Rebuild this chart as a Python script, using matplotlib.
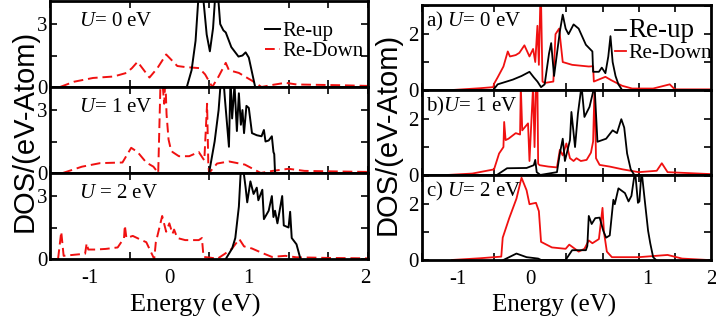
import numpy as np
import matplotlib
matplotlib.use('Agg')
import matplotlib.pyplot as plt

plt.rcParams['font.family'] = 'Liberation Serif'
plt.rcParams['mathtext.fontset'] = 'custom'
plt.rcParams['mathtext.it'] = 'Liberation Serif:italic'
plt.rcParams['mathtext.rm'] = 'Liberation Serif'

# ---------------- data ----------------
# left column, dashed Re-Down / solid Re-up, U = 0, 1, 2 eV
L0_up_e = [0.22, 0.28, 0.33, 0.37, 0.42, 0.47, 0.51, 0.55, 0.58, 0.61, 0.64, 0.68,
           0.71, 0.78, 0.87, 0.92, 0.96, 1.0, 1.04, 1.08]
L0_up_d = [0, 0.8, 2.2, 4.5, 4.5, 2.5, 1.7, 2.8, 4.5, 4.5, 3.0, 2.7,
           2.6, 1.9, 1.45, 1.5, 1.65, 1.4, 0.7, 0]
L0_dn_e = [-1.375, -1.2, -0.96, -0.7, -0.54, -0.47, -0.4, -0.32, -0.25, -0.15, -0.04, 0.05,
           0.1, 0.2, 0.375, 0.45, 0.54, 0.62, 0.71, 0.75, 0.875, 0.95, 1.04, 1.16,
           1.3, 1.46, 1.6, 1.9, 2.2, 2.5]
L0_dn_d = [0, 0.25, 0.43, 0.5, 0.67, 0.9, 1.2, 0.8, 0.45, 0.9, 1.55, 1.2,
           1.0, 0.95, 0.9, 0.6, 0, 0.5, 1.15, 0.8, 0.67, 0.5, 0.3, 0,
           0.1, 0.2, 0.12, 0.1, 0.08, 0.05]

L1_up_e = [0.5, 0.57, 0.62, 0.65, 0.68, 0.7, 0.75, 0.77, 0.79, 0.82, 0.85, 0.875,
           0.9, 0.92, 0.94, 0.97, 1.0, 1.04, 1.1, 1.16, 1.19, 1.21, 1.25, 1.29,
           1.31, 1.32, 1.33]
L1_up_d = [0, 1.5, 3.0, 4.5, 4.5, 3.5, 1.25, 4.5, 2.6, 4.2, 2.0, 3.8,
           2.3, 3.0, 1.9, 3.2, 3.1, 1.9, 1.8, 1.75, 2.05, 1.5, 1.55, 1.75,
           1.0, 0.9, 0]
L1_dn_e = [-1.34, -1.1, -0.87, -0.59, -0.48, -0.4, -0.29, -0.2, -0.14, -0.11, -0.09, -0.065,
           -0.05, -0.035, -0.01, 0.02, 0.04, 0.12, 0.25, 0.37, 0.44, 0.475, 0.49, 0.5,
           0.6, 0.75, 0.95, 1.1, 1.15, 1.3, 1.5, 1.7, 2.0, 2.5]
L1_dn_d = [0, 0.3, 0.47, 0.5, 1.2, 1.0, 0.5, 0.3, 0, 4.5, 4.5, 3.3,
           4.5, 2.8, 1.6, 1.1, 1.0, 0.8, 0.8, 1.0, 0.6, 3.3, 0.5, 0,
           0.45, 0.55, 0.4, 0.1, 0, 0.1, 0.2, 0.1, 0.08, 0.05]

L2_up_e = [0.71, 0.79, 0.83, 0.875, 0.9, 0.93, 0.96, 0.98, 1.02, 1.06, 1.1, 1.12,
           1.17, 1.19, 1.25, 1.29, 1.31, 1.33, 1.36, 1.42, 1.44, 1.5, 1.52, 1.54,
           1.6, 1.65]
L2_up_d = [0, 0.5, 1.0, 2.5, 4.3, 4.3, 3.4, 2.7, 3.7, 3.1, 3.4, 2.8,
           3.3, 1.9, 2.3, 3.0, 2.0, 2.3, 1.7, 3.0, 1.6, 1.5, 2.25, 1.0,
           0.7, 0]
L2_dn_e = [-1.4, -1.36, -1.33, -1.2, -1.06, -1.04, -1.02, -0.93, -0.8, -0.65, -0.57, -0.56,
           -0.54, -0.46, -0.35, -0.29, -0.19, -0.17, -0.15, -0.09, -0.04, 0.0, 0.04, 0.06,
           0.1, 0.2, 0.37, 0.41, 0.43, 0.54, 0.6, 0.7, 0.79, 0.88, 0.94, 1.04,
           1.16, 1.29, 1.46, 1.6, 2.0, 2.5]
L2_dn_d = [0, 1.3, 0.15, 0.2, 0.25, 0.75, 0.45, 0.45, 0.48, 0.55, 1.0, 1.6,
           1.0, 1.1, 0.9, 0.8, 0, 0.8, 1.1, 2.05, 1.3, 1.7, 1.2, 1.4,
           1.0, 0.9, 0.9, 1.0, 0.1, 0.05, 0, 0.25, 0.5, 0.95, 0.6, 0.5,
           0.3, 0.1, 0.15, 0.08, 0.05, 0.03]

# right column, solid lines, panels a), b), c)
Ra_up_e = [-0.51, -0.45, -0.24, -0.12, -0.01, 0.05, 0.1, 0.15, 0.2, 0.26, 0.29, 0.33,
           0.38, 0.41, 0.45, 0.49, 0.53, 0.6, 0.67, 0.77, 0.86, 0.87, 0.95, 0.99,
           1.04, 1.08, 1.11, 1.14, 1.18, 1.22, 1.27]
Ra_up_d = [0, 0.2, 0.37, 0.5, 0.65, 0.45, 0.3, 0.1, 0.2, 1.3, 1.68, 0.5,
           1.5, 2.1, 2.7, 2.2, 2.0, 2.35, 2.2, 1.62, 1.38, 0.65, 0.65, 0.8,
           0.6, 1.2, 1.93, 1.0, 0.5, 0.2, 0]
Ra_dn_e = [-1.06, -0.7, -0.51, -0.5, -0.45, -0.37, -0.31, -0.28, -0.2, -0.15, -0.08, -0.01,
           0.04, 0.07, 0.1, 0.12, 0.14, 0.15, 0.17, 0.2, 0.32, 0.35, 0.4, 0.45,
           0.58, 0.81, 0.87, 0.88, 1.04, 1.12, 1.27, 1.41, 1.7, 1.93, 2.0, 2.5]
Ra_dn_d = [0, 0.06, 0.1, 0.22, 0.45, 0.84, 1.38, 1.2, 1.25, 1.33, 1.6, 1.2,
           1.47, 1.0, 2.3, 0.9, 3.2, 3.2, 0.3, 0.25, 0.3, 2.0, 2.2, 1.0,
           0.9, 0.84, 0.85, 0.3, 0.47, 0.35, 0.15, 0.05, 0.05, 0.2, 0.02, 0.02]

Rb_up_e = [-0.46, -0.32, -0.05, 0.05, 0.07, 0.09, 0.14, 0.37, 0.41, 0.45, 0.48, 0.55,
           0.57, 0.62, 0.66, 0.71, 0.75, 0.82, 0.89, 0.93, 1.05, 1.14, 1.2, 1.26,
           1.3, 1.34, 1.39, 1.44]
Rb_up_d = [0, 0.24, 0.25, 0.35, 0.54, 0.1, 0, 0.1, 0.77, 1.3, 0.5, 1.25,
           2.26, 1.0, 2.2, 3.2, 2.08, 2.44, 3.2, 1.19, 1.3, 1.6, 1.5, 2.0,
           1.7, 0.77, 0.2, 0]
Rb_dn_e = [-1.14, -0.8, -0.5, -0.43, -0.37, -0.36, -0.34, -0.3, -0.2, -0.14, -0.13, -0.11,
           -0.03, -0.01, 0.04, 0.06, 0.08, 0.1, 0.11, 0.13, 0.25, 0.37, 0.41, 0.45,
           0.5, 0.55, 0.6, 0.64, 0.7, 0.78, 0.84, 0.87, 0.89, 0.91, 0.96, 1.1,
           1.28, 1.5, 1.75, 1.82, 1.9, 2.5]
Rb_dn_d = [0, 0.05, 0.2, 0.77, 1.0, 1.9, 1.25, 1.3, 1.5, 1.45, 3.2, 1.6,
           1.85, 0.5, 3.2, 1.0, 3.2, 3.2, 0.4, 0.35, 0.3, 0.27, 0.9, 0.7,
           1.13, 0.6, 0.5, 0.6, 0.5, 0.54, 0.8, 1.2, 3.2, 0.6, 0.36, 0.3,
           0.2, 0.1, 0.15, 0.42, 0.1, 0.03]

Rc_up_e = [-0.37, -0.19, -0.05, 0.11, 0.15, 0.49, 0.58, 0.77, 0.79, 0.81, 0.85, 0.9,
           0.96, 1.01, 1.05, 1.1, 1.15, 1.17, 1.22, 1.31, 1.36, 1.4, 1.45, 1.49,
           1.51, 1.54, 1.59, 1.63, 1.66, 1.7, 1.74]
Rc_up_d = [0, 0.23, 0.1, 0.05, 0, 0, 0.35, 0.35, 0.5, 1.58, 1.29, 1.5,
           1.52, 1.05, 0.8, 0.88, 2.16, 2.0, 2.57, 2.4, 2.1, 2.3, 3.2, 2.05,
           2.1, 3.2, 2.0, 1.05, 0.6, 0.1, 0]
Rc_dn_e = [-1.08, -0.7, -0.4, -0.38, -0.29, -0.19, -0.12, -0.05, -0.01, 0.08, 0.12, 0.15,
           0.3, 0.49, 0.54, 0.67, 0.75, 0.81, 0.86, 0.95, 1.0, 1.02, 1.06, 1.13,
           1.5, 1.9, 2.1, 2.45]
Rc_dn_d = [0, 0.06, 0.12, 0.8, 1.5, 2.2, 2.95, 2.5, 2.0, 2.05, 1.75, 0.65,
           0.45, 0.4, 0.55, 0.3, 0.4, 0.7, 0.6, 0.75, 1.87, 1.0, 0.3, 0.1,
           0.1, 0.18, 0.05, 0]

left_labels = [r'$U$= 0 eV', r'$U$= 1 eV', r'$U$ = 2 eV']
right_labels = [r'a) $U$= 0 eV', r'b)$U$= 1 eV', r'c) $U$= 2 eV']

# tick labels sit where they are in the original figure
left_xtick_pos = [-1, 0, 1, 2.47]
right_xtick_pos = [-1, 0, 1.62, 2.5]
xtick_lab = ['-1', '0', '1', '2']

left_data = [(L0_up_e, L0_up_d, L0_dn_e, L0_dn_d),
             (L1_up_e, L1_up_d, L1_dn_e, L1_dn_d),
             (L2_up_e, L2_up_d, L2_dn_e, L2_dn_d)]
right_data = [(Ra_up_e, Ra_up_d, Ra_dn_e, Ra_dn_d),
              (Rb_up_e, Rb_up_d, Rb_dn_e, Rb_dn_d),
              (Rc_up_e, Rc_up_d, Rc_dn_e, Rc_dn_d)]

RED = '#f01010'


def style_axis(ax, ymax, ymaj, ymin, xpos, last):
	ax.set_xlim(-1.5, 2.5)
	ax.set_ylim(0, ymax)
	for s in ax.spines.values():
		s.set_linewidth(2)
	ax.set_xticks(np.arange(-1.5, 2.51, 0.5), minor=True)
	if last:
		ax.set_xticks(xpos, xtick_lab)
	else:
		ax.set_xticks(xpos, [''] * len(xpos))
	ax.set_yticks(ymaj)
	ax.set_yticks(ymin, minor=True)
	ax.tick_params(which='major', axis='x', length=0, labelsize=15, pad=7)
	ax.tick_params(which='minor', axis='x', direction='in', length=5, width=1.2,
				   top=True, bottom=True)
	ax.tick_params(which='both', axis='y', direction='in', length=5, width=1.2,
				   left=True, right=True, labelsize=15, pad=2)


fig = plt.figure(figsize=(7.16, 3.27), dpi=100)
gl = fig.add_gridspec(3, 1, left=0.07, right=0.514, top=0.997, bottom=0.208, hspace=0)
gr = fig.add_gridspec(3, 1, left=0.589, right=0.993, top=0.985, bottom=0.205, hspace=0)

for i in range(3):
	ax = fig.add_subplot(gl[i])
	ue, ud, de, dd = left_data[i]
	ax.plot(de, dd, color=RED, lw=1.4, ls=(0, (5, 2.5)), label='Re-Down')
	ax.plot(ue, ud, color='black', lw=1.4, label='Re-up')
	style_axis(ax, 4.1, [0, 3], [1.5], left_xtick_pos, i == 2)
	ax.text(0.09, 0.76, left_labels[i], transform=ax.transAxes, fontsize=15, va='center')
	if i == 0:
		h, l = ax.get_legend_handles_labels()
		ax.legend(h[::-1], l[::-1], loc='upper right', frameon=False, fontsize=15,
				  handlelength=0.7, handletextpad=0.15, labelspacing=0.0,
				  borderaxespad=0.1, bbox_to_anchor=(1.02, 0.88))

for i in range(3):
	ax = fig.add_subplot(gr[i])
	ue, ud, de, dd = right_data[i]
	ax.plot(de, dd, color=RED, lw=1.3, label='Re-Down')
	ax.plot(ue, ud, color='black', lw=1.3, label='Re-up')
	style_axis(ax, 3.05, [0, 2], [1, 3], right_xtick_pos, i == 2)
	ax.text(0.015, 0.8, right_labels[i], transform=ax.transAxes, fontsize=15, va='center')
	if i == 0:
		h, l = ax.get_legend_handles_labels()
		leg = ax.legend(h[::-1], l[::-1], loc='upper right', frameon=False, fontsize=15.5,
						handlelength=0.5, handletextpad=0.1, labelspacing=0.0,
						borderaxespad=0.1, bbox_to_anchor=(1.04, 0.97))
		leg.get_texts()[0].set_fontsize(19.5)

fig.text(0.034, 0.60, 'DOS/(eV-Atom)', rotation=90, ha='center', va='center',
		 fontsize=21, family='Liberation Sans')
fig.text(0.542, 0.59, 'DOS/(eV-Atom)', rotation=90, ha='center', va='center',
		 fontsize=21, family='Liberation Sans')
fig.text(0.273, 0.065, 'Energy (eV)', ha='center', va='center', fontsize=19)
fig.text(0.774, 0.065, 'Energy (eV)', ha='center', va='center', fontsize=18)

plt.savefig('out.png', dpi=100)
